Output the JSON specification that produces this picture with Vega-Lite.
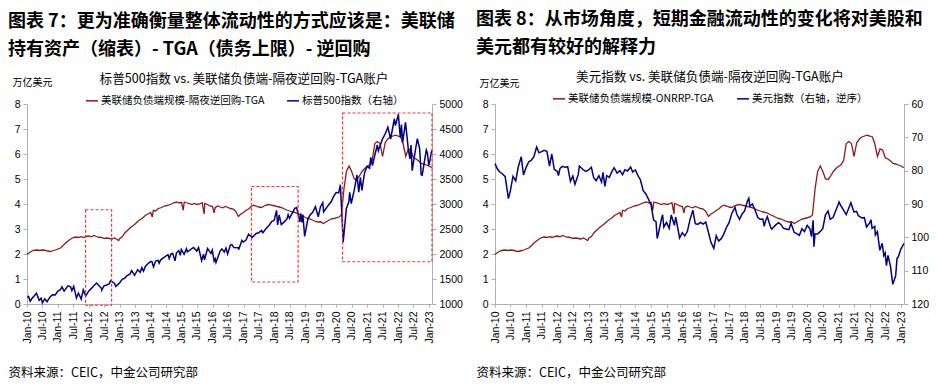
{
"$schema": "https://vega.github.io/schema/vega-lite/v6.json",
"background": "white",
"padding": {"left": 8, "top": 11, "right": 2, "bottom": 2},
"spacing": 13,
"config": {"font": "Liberation Sans", "view": {"stroke": null},
  "axis": {"grid": false, "domainColor": "#b0b0b0", "tickColor": "#b0b0b0", "labelColor": "#000000", "labelFont": "Liberation Sans", "labelFontSize": 10.5, "tickSize": 4, "labelPadding": 3},
  "legend": {"labelFont": "Noto Sans CJK SC", "labelFontSize": 10.5, "labelColor": "#000000", "labelLimit": 500, "titleLimit": 600, "titleFont": "Noto Sans CJK SC", "titleFontSize": 12.6, "titleFontWeight": "normal", "titleColor": "#000000", "symbolType": "stroke", "symbolSize": 144, "symbolStrokeWidth": 1.5, "columnPadding": 20, "labelOffset": 2, "direction": "horizontal", "orient": "none", "titleOrient": "top", "titleAnchor": "middle", "titlePadding": 8},
  "title": {"font": "Noto Sans CJK SC", "fontSize": 18, "fontWeight": "bold", "color": "#000000", "anchor": "start", "frame": "bounds", "lineHeight": 28, "offset": 14}
},
"resolve": {"scale": {"color": "independent"}, "legend": {"color": "independent"}},
"datasets": {
"liq": [
{"d":"2010-01-01","v":1.98},{"d":"2010-02-01","v":2.06},{"d":"2010-03-01","v":2.12},{"d":"2010-04-01","v":2.15},{"d":"2010-05-01","v":2.16},{"d":"2010-06-01","v":2.14},{"d":"2010-07-01","v":2.16},{"d":"2010-08-01","v":2.15},{"d":"2010-09-01","v":2.12},{"d":"2010-10-01","v":2.10},{"d":"2010-11-01","v":2.13},{"d":"2010-12-01","v":2.16},
{"d":"2011-01-01","v":2.20},{"d":"2011-02-01","v":2.24},{"d":"2011-03-01","v":2.33},{"d":"2011-04-01","v":2.44},{"d":"2011-05-01","v":2.52},{"d":"2011-06-01","v":2.60},{"d":"2011-07-01","v":2.66},{"d":"2011-08-01","v":2.68},{"d":"2011-09-01","v":2.66},{"d":"2011-10-01","v":2.69},{"d":"2011-11-01","v":2.66},{"d":"2011-12-01","v":2.70},
{"d":"2012-01-01","v":2.72},{"d":"2012-02-01","v":2.69},{"d":"2012-03-01","v":2.74},{"d":"2012-04-01","v":2.70},{"d":"2012-05-01","v":2.67},{"d":"2012-06-01","v":2.66},{"d":"2012-07-01","v":2.62},{"d":"2012-08-01","v":2.64},{"d":"2012-09-01","v":2.62},{"d":"2012-10-01","v":2.60},{"d":"2012-11-01","v":2.64},{"d":"2012-12-01","v":2.58},{"d":"2012-12-20","v":2.54},
{"d":"2013-01-01","v":2.62},{"d":"2013-02-01","v":2.70},{"d":"2013-03-01","v":2.84},{"d":"2013-04-01","v":2.94},{"d":"2013-05-01","v":3.04},{"d":"2013-06-01","v":3.12},{"d":"2013-07-01","v":3.20},{"d":"2013-08-01","v":3.30},{"d":"2013-09-01","v":3.38},{"d":"2013-10-01","v":3.45},{"d":"2013-11-01","v":3.55},{"d":"2013-12-01","v":3.60},
{"d":"2014-01-01","v":3.66},{"d":"2014-01-20","v":3.48},{"d":"2014-02-01","v":3.75},{"d":"2014-03-01","v":3.72},{"d":"2014-04-01","v":3.82},{"d":"2014-05-01","v":3.85},{"d":"2014-06-01","v":3.90},{"d":"2014-07-01","v":3.93},{"d":"2014-08-01","v":3.95},{"d":"2014-09-01","v":4.00},{"d":"2014-10-01","v":4.05},{"d":"2014-11-01","v":4.08},{"d":"2014-12-01","v":4.05},
{"d":"2015-01-01","v":4.06},{"d":"2015-01-20","v":3.75},{"d":"2015-02-01","v":4.08},{"d":"2015-03-01","v":4.05},{"d":"2015-04-01","v":4.02},{"d":"2015-05-01","v":3.98},{"d":"2015-06-01","v":4.02},{"d":"2015-07-01","v":3.98},{"d":"2015-08-01","v":4.00},{"d":"2015-09-01","v":4.05},{"d":"2015-09-25","v":3.60},{"d":"2015-10-01","v":4.02},{"d":"2015-11-01","v":3.98},{"d":"2015-12-01","v":3.92},
{"d":"2016-01-01","v":3.90},{"d":"2016-01-20","v":3.65},{"d":"2016-02-01","v":3.85},{"d":"2016-03-01","v":3.92},{"d":"2016-04-01","v":3.88},{"d":"2016-05-01","v":3.85},{"d":"2016-06-01","v":3.90},{"d":"2016-07-01","v":3.86},{"d":"2016-08-01","v":3.82},{"d":"2016-09-01","v":3.80},{"d":"2016-10-01","v":3.70},{"d":"2016-11-01","v":3.50},{"d":"2016-12-01","v":3.60},
{"d":"2017-01-01","v":3.66},{"d":"2017-02-01","v":3.75},{"d":"2017-03-01","v":3.80},{"d":"2017-04-01","v":3.90},{"d":"2017-05-01","v":3.95},{"d":"2017-06-01","v":3.92},{"d":"2017-07-01","v":3.88},{"d":"2017-08-01","v":3.86},{"d":"2017-09-01","v":3.92},{"d":"2017-10-01","v":3.96},{"d":"2017-11-01","v":3.98},{"d":"2017-12-01","v":3.95},
{"d":"2018-01-01","v":3.93},{"d":"2018-02-01","v":3.90},{"d":"2018-03-01","v":3.88},{"d":"2018-04-01","v":3.85},{"d":"2018-05-01","v":3.80},{"d":"2018-06-01","v":3.75},{"d":"2018-07-01","v":3.72},{"d":"2018-08-01","v":3.68},{"d":"2018-09-01","v":3.66},{"d":"2018-10-01","v":3.62},{"d":"2018-11-01","v":3.56},{"d":"2018-12-01","v":3.52},
{"d":"2019-01-01","v":3.46},{"d":"2019-02-01","v":3.42},{"d":"2019-03-01","v":3.40},{"d":"2019-04-01","v":3.35},{"d":"2019-05-01","v":3.30},{"d":"2019-06-01","v":3.28},{"d":"2019-07-01","v":3.29},{"d":"2019-08-01","v":3.22},{"d":"2019-09-01","v":3.28},{"d":"2019-10-01","v":3.34},{"d":"2019-11-01","v":3.40},{"d":"2019-12-01","v":3.42},
{"d":"2020-01-01","v":3.45},{"d":"2020-02-01","v":3.48},{"d":"2020-03-01","v":3.55},{"d":"2020-04-01","v":4.60},{"d":"2020-05-01","v":5.30},{"d":"2020-06-01","v":5.52},{"d":"2020-07-01","v":5.30},{"d":"2020-08-01","v":5.00},{"d":"2020-09-01","v":4.98},{"d":"2020-10-01","v":5.12},{"d":"2020-11-01","v":5.30},{"d":"2020-12-01","v":5.42},
{"d":"2021-01-01","v":5.50},{"d":"2021-02-01","v":5.58},{"d":"2021-03-01","v":5.75},{"d":"2021-04-01","v":6.42},{"d":"2021-05-01","v":6.50},{"d":"2021-06-01","v":6.42},{"d":"2021-07-01","v":5.90},{"d":"2021-08-01","v":6.45},{"d":"2021-09-01","v":6.60},{"d":"2021-10-01","v":6.68},{"d":"2021-11-01","v":6.72},{"d":"2021-12-01","v":6.75},
{"d":"2022-01-01","v":6.72},{"d":"2022-02-01","v":6.68},{"d":"2022-03-01","v":6.40},{"d":"2022-04-01","v":5.90},{"d":"2022-05-01","v":6.20},{"d":"2022-06-01","v":6.15},{"d":"2022-07-01","v":5.85},{"d":"2022-08-01","v":5.80},{"d":"2022-09-01","v":5.72},{"d":"2022-10-01","v":5.62},{"d":"2022-11-01","v":5.60},{"d":"2022-12-01","v":5.56},
{"d":"2023-01-01","v":5.52},{"d":"2023-02-03","v":5.45}
],
"spx": [
{"d":"2010-01-04","v":1133},{"d":"2010-01-19","v":1150},{"d":"2010-02-08","v":1056},{"d":"2010-02-26","v":1104},{"d":"2010-03-31","v":1169},{"d":"2010-04-23","v":1217},{"d":"2010-05-25","v":1074},{"d":"2010-06-18","v":1117},{"d":"2010-07-02","v":1022},{"d":"2010-07-30","v":1102},{"d":"2010-08-26","v":1047},{"d":"2010-09-30","v":1141},{"d":"2010-10-29","v":1183},{"d":"2010-11-30","v":1181},{"d":"2010-12-31","v":1258},
{"d":"2011-01-31","v":1286},{"d":"2011-02-18","v":1343},{"d":"2011-03-16","v":1257},{"d":"2011-04-29","v":1364},{"d":"2011-05-31","v":1345},{"d":"2011-06-15","v":1266},{"d":"2011-07-07","v":1353},{"d":"2011-08-08","v":1119},{"d":"2011-08-31","v":1219},{"d":"2011-10-03","v":1099},{"d":"2011-10-27","v":1285},{"d":"2011-11-25","v":1159},{"d":"2011-12-30","v":1258},
{"d":"2012-01-31","v":1312},{"d":"2012-02-29","v":1366},{"d":"2012-04-02","v":1419},{"d":"2012-05-31","v":1310},{"d":"2012-06-01","v":1278},{"d":"2012-06-29","v":1362},{"d":"2012-07-31","v":1379},{"d":"2012-08-31","v":1407},{"d":"2012-09-14","v":1466},{"d":"2012-10-31","v":1412},{"d":"2012-11-15","v":1353},{"d":"2012-12-31","v":1426},
{"d":"2013-01-31","v":1498},{"d":"2013-02-28","v":1515},{"d":"2013-03-28","v":1569},{"d":"2013-04-30","v":1598},{"d":"2013-05-21","v":1669},{"d":"2013-06-24","v":1573},{"d":"2013-07-31","v":1686},{"d":"2013-08-30","v":1633},{"d":"2013-09-18","v":1725},{"d":"2013-10-08","v":1656},{"d":"2013-10-31","v":1757},{"d":"2013-11-29","v":1806},{"d":"2013-12-31","v":1848},
{"d":"2014-01-15","v":1848},{"d":"2014-02-03","v":1742},{"d":"2014-02-28","v":1859},{"d":"2014-03-31","v":1872},{"d":"2014-04-11","v":1815},{"d":"2014-04-30","v":1884},{"d":"2014-05-30","v":1924},{"d":"2014-06-30","v":1960},{"d":"2014-07-24","v":1988},{"d":"2014-08-07","v":1910},{"d":"2014-08-29","v":2003},{"d":"2014-09-18","v":2011},{"d":"2014-10-15","v":1862},{"d":"2014-10-31","v":2018},{"d":"2014-11-28","v":2068},{"d":"2014-12-16","v":1973},{"d":"2014-12-29","v":2091},
{"d":"2015-01-30","v":1995},{"d":"2015-02-27","v":2105},{"d":"2015-03-10","v":2044},{"d":"2015-03-31","v":2068},{"d":"2015-05-21","v":2131},{"d":"2015-06-29","v":2058},{"d":"2015-07-20","v":2129},{"d":"2015-08-25","v":1868},{"d":"2015-09-17","v":1996},{"d":"2015-09-28","v":1882},{"d":"2015-11-03","v":2110},{"d":"2015-12-14","v":2012},{"d":"2015-12-29","v":2078},
{"d":"2016-01-20","v":1859},{"d":"2016-02-02","v":1903},{"d":"2016-02-11","v":1829},{"d":"2016-03-31","v":2060},{"d":"2016-04-20","v":2102},{"d":"2016-05-19","v":2040},{"d":"2016-06-08","v":2119},{"d":"2016-06-27","v":2001},{"d":"2016-07-29","v":2174},{"d":"2016-08-15","v":2191},{"d":"2016-09-09","v":2128},{"d":"2016-10-31","v":2126},{"d":"2016-11-04","v":2085},{"d":"2016-12-13","v":2272},{"d":"2016-12-30","v":2239},
{"d":"2017-01-31","v":2279},{"d":"2017-03-01","v":2396},{"d":"2017-04-13","v":2329},{"d":"2017-05-31","v":2412},{"d":"2017-06-30","v":2423},{"d":"2017-07-31","v":2470},{"d":"2017-08-18","v":2426},{"d":"2017-09-29","v":2519},{"d":"2017-10-31","v":2575},{"d":"2017-11-30","v":2648},{"d":"2017-12-29","v":2674},
{"d":"2018-01-26","v":2873},{"d":"2018-02-08","v":2581},{"d":"2018-02-26","v":2780},{"d":"2018-03-23","v":2588},{"d":"2018-04-30","v":2648},{"d":"2018-05-31","v":2705},{"d":"2018-06-12","v":2787},{"d":"2018-06-28","v":2716},{"d":"2018-07-31","v":2816},{"d":"2018-08-29","v":2914},{"d":"2018-09-20","v":2930},{"d":"2018-10-29","v":2641},{"d":"2018-11-07","v":2814},{"d":"2018-11-23","v":2633},{"d":"2018-12-03","v":2790},{"d":"2018-12-24","v":2351},
{"d":"2019-01-31","v":2704},{"d":"2019-02-28","v":2784},{"d":"2019-03-29","v":2834},{"d":"2019-04-30","v":2946},{"d":"2019-06-03","v":2744},{"d":"2019-06-28","v":2942},{"d":"2019-07-26","v":3025},{"d":"2019-08-05","v":2844},{"d":"2019-09-30","v":2977},{"d":"2019-10-31","v":3038},{"d":"2019-11-29","v":3141},{"d":"2019-12-31","v":3231},
{"d":"2020-01-31","v":3226},{"d":"2020-02-19","v":3386},{"d":"2020-03-09","v":2747},{"d":"2020-03-23","v":2237},{"d":"2020-04-30","v":2912},{"d":"2020-05-29","v":3044},{"d":"2020-06-08","v":3232},{"d":"2020-06-26","v":3009},{"d":"2020-07-31","v":3271},{"d":"2020-09-02","v":3580},{"d":"2020-09-23","v":3237},{"d":"2020-10-12","v":3535},{"d":"2020-10-30","v":3270},{"d":"2020-11-30","v":3622},{"d":"2020-12-31","v":3756},
{"d":"2021-01-29","v":3714},{"d":"2021-02-12","v":3934},{"d":"2021-03-04","v":3768},{"d":"2021-03-31","v":3973},{"d":"2021-04-30","v":4181},{"d":"2021-05-12","v":4063},{"d":"2021-06-30","v":4298},{"d":"2021-07-30","v":4395},{"d":"2021-09-02","v":4537},{"d":"2021-10-04","v":4300},{"d":"2021-11-18","v":4705},{"d":"2021-11-30","v":4567},{"d":"2021-12-31","v":4766},
{"d":"2022-01-03","v":4797},{"d":"2022-01-27","v":4327},{"d":"2022-02-09","v":4588},{"d":"2022-02-23","v":4226},{"d":"2022-03-29","v":4632},{"d":"2022-04-29","v":4132},{"d":"2022-05-20","v":3901},{"d":"2022-06-02","v":4177},{"d":"2022-06-16","v":3667},{"d":"2022-07-29","v":4130},{"d":"2022-08-16","v":4305},{"d":"2022-09-12","v":4110},{"d":"2022-09-30","v":3586},{"d":"2022-10-12","v":3577},{"d":"2022-11-30","v":4080},{"d":"2022-12-13","v":4019},{"d":"2022-12-28","v":3783},{"d":"2023-01-05","v":3808},{"d":"2023-02-02","v":4077}
],
"dxy": [
{"d":"2010-01-01","v":77.9},{"d":"2010-01-29","v":79.5},{"d":"2010-02-26","v":80.4},{"d":"2010-03-31","v":81.0},{"d":"2010-04-30","v":81.8},{"d":"2010-06-07","v":88.4},{"d":"2010-06-30","v":86.0},{"d":"2010-07-30","v":81.7},{"d":"2010-08-31","v":83.1},{"d":"2010-09-30","v":78.9},{"d":"2010-11-04","v":75.8},{"d":"2010-11-30","v":81.3},{"d":"2010-12-31","v":79.0},
{"d":"2011-01-31","v":77.3},{"d":"2011-02-28","v":76.9},{"d":"2011-03-31","v":75.9},{"d":"2011-05-03","v":72.9},{"d":"2011-05-31","v":74.6},{"d":"2011-06-30","v":74.3},{"d":"2011-07-29","v":73.9},{"d":"2011-08-31","v":74.2},{"d":"2011-09-30","v":78.6},{"d":"2011-10-27","v":75.0},{"d":"2011-11-25","v":79.6},{"d":"2011-12-30","v":80.2},
{"d":"2012-01-13","v":81.5},{"d":"2012-01-31","v":79.3},{"d":"2012-02-29","v":78.7},{"d":"2012-03-30","v":79.0},{"d":"2012-04-30","v":78.8},{"d":"2012-06-01","v":83.2},{"d":"2012-06-29","v":81.6},{"d":"2012-07-24","v":84.1},{"d":"2012-08-31","v":81.2},{"d":"2012-09-14","v":78.6},{"d":"2012-10-31","v":79.8},{"d":"2012-11-30","v":80.2},{"d":"2012-12-31","v":79.8},
{"d":"2013-02-01","v":79.0},{"d":"2013-02-28","v":82.1},{"d":"2013-03-28","v":83.0},{"d":"2013-04-30","v":81.5},{"d":"2013-05-31","v":83.4},{"d":"2013-06-17","v":80.5},{"d":"2013-07-09","v":84.7},{"d":"2013-07-31","v":81.5},{"d":"2013-08-30","v":82.0},{"d":"2013-09-30","v":80.2},{"d":"2013-10-25","v":79.1},{"d":"2013-11-29","v":80.7},{"d":"2013-12-31","v":80.0},
{"d":"2014-01-31","v":81.2},{"d":"2014-02-28","v":79.7},{"d":"2014-03-31","v":80.1},{"d":"2014-05-06","v":78.9},{"d":"2014-05-30","v":80.4},{"d":"2014-06-30","v":79.8},{"d":"2014-07-31","v":81.5},{"d":"2014-08-29","v":82.8},{"d":"2014-09-30","v":86.0},{"d":"2014-10-31","v":87.0},{"d":"2014-11-28","v":88.4},{"d":"2014-12-31","v":90.3},
{"d":"2015-01-30","v":94.8},{"d":"2015-02-27","v":95.3},{"d":"2015-03-13","v":100.3},{"d":"2015-03-31","v":98.4},{"d":"2015-04-30","v":94.6},{"d":"2015-05-15","v":93.2},{"d":"2015-05-29","v":96.9},{"d":"2015-06-30","v":95.5},{"d":"2015-07-31","v":97.3},{"d":"2015-08-24","v":93.3},{"d":"2015-09-30","v":96.4},{"d":"2015-10-15","v":93.9},{"d":"2015-11-30","v":100.2},{"d":"2015-12-31","v":98.6},
{"d":"2016-01-29","v":99.6},{"d":"2016-02-29","v":98.2},{"d":"2016-03-31","v":94.6},{"d":"2016-05-03","v":91.9},{"d":"2016-05-31","v":95.9},{"d":"2016-06-30","v":96.1},{"d":"2016-07-29","v":95.5},{"d":"2016-08-31","v":96.0},{"d":"2016-09-30","v":95.4},{"d":"2016-10-31","v":98.4},{"d":"2016-11-30","v":101.5},{"d":"2017-01-03","v":103.3},
{"d":"2017-01-31","v":99.5},{"d":"2017-02-28","v":101.1},{"d":"2017-03-31","v":100.4},{"d":"2017-04-28","v":99.1},{"d":"2017-05-31","v":97.0},{"d":"2017-06-30","v":95.6},{"d":"2017-07-31","v":92.9},{"d":"2017-09-08","v":91.0},{"d":"2017-09-29","v":93.1},{"d":"2017-10-31","v":94.6},{"d":"2017-11-30","v":93.0},{"d":"2017-12-29","v":92.1},
{"d":"2018-01-31","v":89.1},{"d":"2018-02-16","v":88.3},{"d":"2018-02-28","v":90.6},{"d":"2018-03-30","v":90.0},{"d":"2018-04-30","v":91.8},{"d":"2018-05-31","v":94.0},{"d":"2018-06-29","v":94.6},{"d":"2018-07-31","v":94.5},{"d":"2018-08-15","v":96.7},{"d":"2018-08-31","v":95.1},{"d":"2018-09-21","v":93.8},{"d":"2018-10-31","v":97.1},{"d":"2018-11-12","v":97.5},{"d":"2018-12-31","v":96.2},
{"d":"2019-01-31","v":95.6},{"d":"2019-02-28","v":96.2},{"d":"2019-03-29","v":97.3},{"d":"2019-04-30","v":97.5},{"d":"2019-05-31","v":97.7},{"d":"2019-06-25","v":95.8},{"d":"2019-07-31","v":98.5},{"d":"2019-08-30","v":98.9},{"d":"2019-09-30","v":99.4},{"d":"2019-10-31","v":97.4},{"d":"2019-11-29","v":98.3},{"d":"2019-12-31","v":96.4},
{"d":"2020-01-31","v":97.4},{"d":"2020-02-19","v":99.8},{"d":"2020-03-09","v":94.9},{"d":"2020-03-19","v":102.8},{"d":"2020-03-31","v":99.0},{"d":"2020-04-30","v":99.0},{"d":"2020-05-29","v":98.3},{"d":"2020-06-30","v":97.4},{"d":"2020-07-31","v":93.3},{"d":"2020-08-31","v":92.1},{"d":"2020-09-25","v":94.6},{"d":"2020-10-30","v":94.0},{"d":"2020-11-30","v":91.9},{"d":"2020-12-31","v":89.9},
{"d":"2021-01-06","v":89.4},{"d":"2021-01-29","v":90.6},{"d":"2021-03-31","v":93.2},{"d":"2021-05-25","v":89.6},{"d":"2021-06-30","v":92.4},{"d":"2021-07-30","v":92.2},{"d":"2021-08-20","v":93.5},{"d":"2021-09-30","v":94.2},{"d":"2021-10-29","v":94.1},{"d":"2021-11-24","v":96.9},{"d":"2021-12-31","v":95.7},
{"d":"2022-01-14","v":94.7},{"d":"2022-01-28","v":97.3},{"d":"2022-02-28","v":96.7},{"d":"2022-03-07","v":99.3},{"d":"2022-03-31","v":98.3},{"d":"2022-04-28","v":103.9},{"d":"2022-05-26","v":101.8},{"d":"2022-06-14","v":105.5},{"d":"2022-06-30","v":104.7},{"d":"2022-07-14","v":108.5},{"d":"2022-08-02","v":105.4},{"d":"2022-08-31","v":108.7},{"d":"2022-09-27","v":114.1},{"d":"2022-10-31","v":111.5},{"d":"2022-11-15","v":106.3},{"d":"2022-11-30","v":105.9},{"d":"2022-12-30","v":103.5},{"d":"2023-01-31","v":102.1},{"d":"2023-02-03","v":101.8}
]
},
"hconcat": [
{
 "title": {"text": ["图表 7：更为准确衡量整体流动性的方式应该是：美联储", "持有资产（缩表）- TGA（债务上限）- 逆回购"]},
 "width": 405, "height": 200,
 "encoding": {"x": {"field": "d", "type": "temporal",
   "scale": {"domain": [{"year": 2010, "month": 1, "date": 1}, {"year": 2023, "month": 2, "date": 5}], "nice": false},
   "axis": {"format": "%b-%y", "tickCount": {"interval": "month", "step": 6}, "labelAngle": -90, "labelOverlap": false, "labelFlush": false, "tickSize": 3, "labelPadding": 4,
     "title": "资料来源：CEIC，中金公司研究部", "titleFont": "Noto Sans CJK SC", "titleFontSize": 12.5, "titleFontWeight": "normal", "titleAnchor": "start", "titleAlign": "left", "titleBaseline": "middle", "titleX": -19, "titleY": 68, "titleColor": "#000000"}}},
 "layer": [
  {"data": {"name": "liq"}, "mark": {"type": "line", "strokeWidth": 1.3},
   "encoding": {"y": {"field": "v", "type": "quantitative", "scale": {"domain": [0, 8], "nice": false},
     "axis": {"orient": "left", "values": [0,1,2,3,4,5,6,7,8], "title": "万亿美元", "titleAngle": 0, "titleAlign": "left", "titleBaseline": "middle", "titleX": -15, "titleY": -22, "titleFont": "Noto Sans CJK SC", "titleFontSize": 10, "titleFontWeight": "normal", "titleColor": "#000000"}},
    "color": {"datum": "美联储负债端规模-隔夜逆回购-TGA", "type": "nominal",
      "scale": {"domain": ["美联储负债端规模-隔夜逆回购-TGA", "标普500指数（右轴）"], "range": ["#8b1a1a", "#000080"]},
      "legend": {"title": "标普500指数 vs. 美联储负债端-隔夜逆回购-TGA账户", "legendX": 58, "legendY": -31}}}},
  {"data": {"name": "spx"}, "mark": {"type": "line", "strokeWidth": 1.5},
   "encoding": {"y": {"field": "v", "type": "quantitative", "scale": {"domain": [1000, 5000], "nice": false},
     "axis": {"orient": "right", "values": [1000,1500,2000,2500,3000,3500,4000,4500,5000], "format": "d", "title": null}},
    "color": {"datum": "标普500指数（右轴）", "type": "nominal"}}},
  {"data": {"values": [
     {"d": "2011-11-24", "d2": "2012-09-26", "y": -0.05, "y2": 3.77},
     {"d": "2017-04-05", "d2": "2018-10-08", "y": 0.88, "y2": 4.70},
     {"d": "2020-03-15", "d2": "2023-02-05", "y": 1.69, "y2": 7.64}]},
   "mark": {"type": "rect", "fillOpacity": 0, "stroke": "#ff3030", "strokeDash": [3, 2], "strokeWidth": 1.2},
   "encoding": {"x2": {"field": "d2"}, "y": {"field": "y", "type": "quantitative", "scale": {"domain": [0, 8], "nice": false}, "axis": null}, "y2": {"field": "y2"}}}
 ],
 "resolve": {"scale": {"y": "independent"}}
},
{
 "title": {"text": ["图表 8：从市场角度，短期金融流动性的变化将对美股和", "美元都有较好的解释力"]},
 "width": 409, "height": 200,
 "encoding": {"x": {"field": "d", "type": "temporal",
   "scale": {"domain": [{"year": 2010, "month": 1, "date": 1}, {"year": 2023, "month": 2, "date": 5}], "nice": false},
   "axis": {"format": "%b-%y", "tickCount": {"interval": "month", "step": 6}, "labelAngle": -90, "labelOverlap": false, "labelFlush": false, "tickSize": 3, "labelPadding": 4,
     "title": "资料来源：CEIC，中金公司研究部", "titleFont": "Noto Sans CJK SC", "titleFontSize": 12.5, "titleFontWeight": "normal", "titleAnchor": "start", "titleAlign": "left", "titleBaseline": "middle", "titleX": -19, "titleY": 68, "titleColor": "#000000"}}},
 "layer": [
  {"data": {"name": "liq"}, "mark": {"type": "line", "strokeWidth": 1.3},
   "encoding": {"y": {"field": "v", "type": "quantitative", "scale": {"domain": [0, 8], "nice": false},
     "axis": {"orient": "left", "values": [0,1,2,3,4,5,6,7,8], "title": "万亿美元", "titleAngle": 0, "titleAlign": "left", "titleBaseline": "middle", "titleX": -16, "titleY": -21, "titleFont": "Noto Sans CJK SC", "titleFontSize": 10, "titleFontWeight": "normal", "titleColor": "#000000"}},
    "color": {"datum": "美联储负债端规模-ONRRP-TGA", "type": "nominal",
      "scale": {"domain": ["美联储负债端规模-ONRRP-TGA", "美元指数（右轴，逆序）"], "range": ["#8b1a1a", "#000080"]},
      "legend": {"title": "美元指数 vs. 美联储负债端-隔夜逆回购-TGA账户", "legendX": 57, "legendY": -33}}}},
  {"data": {"name": "dxy"}, "mark": {"type": "line", "strokeWidth": 1.5},
   "encoding": {"y": {"field": "v", "type": "quantitative", "scale": {"domain": [60, 120], "nice": false, "reverse": true},
     "axis": {"orient": "right", "values": [60,70,80,90,100,110,120], "title": null}},
    "color": {"datum": "美元指数（右轴，逆序）", "type": "nominal"}}}
 ],
 "resolve": {"scale": {"y": "independent"}}
}
]
}
